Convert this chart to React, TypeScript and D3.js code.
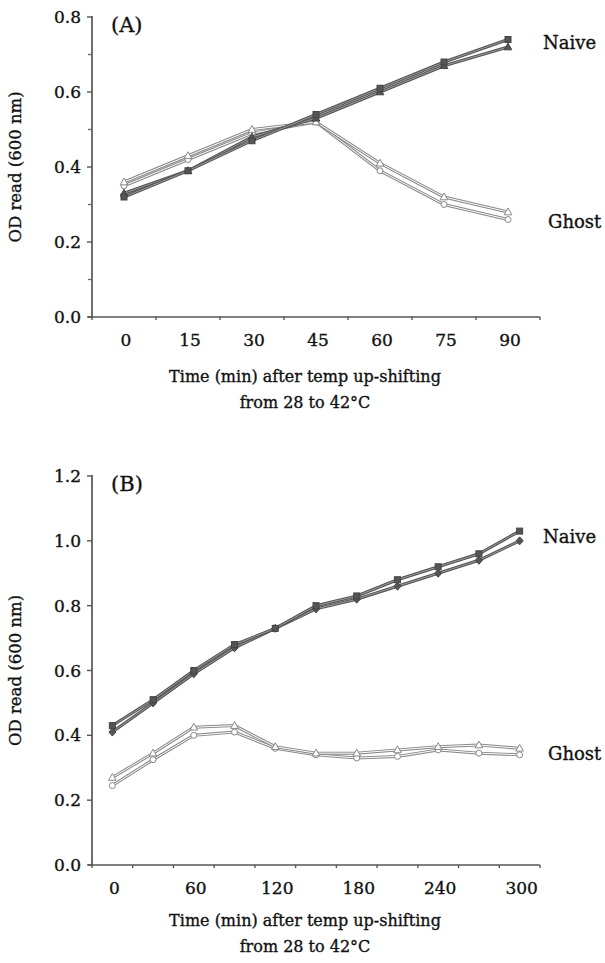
import React from 'react';
import * as d3 from 'd3';

// panel A: 0-90 min, every 15 min
const timesA = [0, 15, 30, 45, 60, 75, 90];
const naiveA1 = [0.32, 0.39, 0.47, 0.54, 0.61, 0.68, 0.74];
const naiveA2 = [0.33, 0.39, 0.48, 0.53, 0.60, 0.67, 0.72];
const ghostA1 = [0.36, 0.43, 0.50, 0.52, 0.41, 0.32, 0.28];
const ghostA2 = [0.35, 0.42, 0.49, 0.52, 0.39, 0.30, 0.26];
const yTicksA = [0, 0.2, 0.4, 0.6, 0.8];

// panel B: 0-300 min, every 30 min
const timesB = [0, 30, 60, 90, 120, 150, 180, 210, 240, 270, 300];
const naiveB1 = [0.43, 0.51, 0.60, 0.68, 0.73, 0.80, 0.83, 0.88, 0.92, 0.96, 1.03];
const naiveB2 = [0.41, 0.50, 0.59, 0.67, 0.73, 0.79, 0.82, 0.86, 0.90, 0.94, 1.00];
const ghostB1 = [0.27, 0.345, 0.425, 0.43, 0.365, 0.345, 0.345, 0.355, 0.365, 0.37, 0.36];
const ghostB2 = [0.245, 0.325, 0.40, 0.41, 0.36, 0.34, 0.33, 0.335, 0.355, 0.345, 0.34];
const xLabelsB = [0, 60, 120, 180, 240, 300];
const yTicksB = [0, 0.2, 0.4, 0.6, 0.8, 1.0, 1.2];

const FONT = '"DejaVu Serif", serif';
// scanned text is heavier than DejaVu regular, thicken it a little
const txt = { fontFamily: FONT, fill: '#111', stroke: '#111', strokeWidth: 0.35 };

type Series = { values: number[]; kind: 'naive' | 'ghost'; marker: 'square' | 'triangle' | 'circle' | 'diamond' };

const Marker = ({ x, y, s }: { x: number; y: number; s: Series }) => {
  const fill = s.kind === 'naive' ? '#555' : '#fff';
  const stroke = s.kind === 'naive' ? '#444' : '#888';
  if (s.marker === 'square') return <rect x={x - 3} y={y - 3} width={6} height={6} fill={fill} stroke={stroke} strokeWidth={1} />;
  if (s.marker === 'circle') return <circle cx={x} cy={y} r={3} fill={fill} stroke={stroke} strokeWidth={1} />;
  if (s.marker === 'diamond') return <path d={`M${x},${y - 4}L${x + 3.5},${y}L${x},${y + 4}L${x - 3.5},${y}Z`} fill={fill} stroke={stroke} strokeWidth={1} />;
  return <path d={`M${x},${y - 4}L${x + 3.8},${y + 2.8}L${x - 3.8},${y + 2.8}Z`} fill={fill} stroke={stroke} strokeWidth={1} />;
};

type PanelProps = {
  top: number;
  bottom: number;
  times: number[];
  step: number;
  xLabels: number[];
  yMax: number;
  yTicks: number[];
  yMinor: number[];
  series: Series[];
  tag: string;
  naiveY: number;
  ghostY: number;
  titleY: number;
};

const Panel = ({ top, bottom, times, step, xLabels, yMax, yTicks, yMinor, series, tag, naiveY, ghostY, titleY }: PanelProps) => {
  const left = 92;
  const right = 540;
  const x = d3.scaleLinear().domain([times[0] - step / 2, times[times.length - 1] + step / 2]).range([left, right]);
  const y = d3.scaleLinear().domain([0, yMax]).range([bottom, top]);
  const line = d3.line<number>().x((_, i) => x(times[i])).y(d => y(d));
  const xTickVals = d3.range(times[0] - step / 2, times[times.length - 1] + step, step);

  return (
    <g>
      {/* axes */}
      <line x1={left} x2={left} y1={top - 1} y2={bottom} stroke="#555" strokeWidth={1.7} />
      <line x1={left - 4} x2={right} y1={bottom} y2={bottom} stroke="#555" strokeWidth={1.7} />
      {yTicks.map(t => (
        <g key={t}>
          <line x1={left - 5} x2={left} y1={y(t)} y2={y(t)} stroke="#555" strokeWidth={1.4} />
          <text x={left - 11} y={y(t)} dy="0.36em" textAnchor="end" fontSize={17} {...txt}>{t.toFixed(1)}</text>
        </g>
      ))}
      {yMinor.map(t => (
        <line key={t} x1={left - 4} x2={left} y1={y(t)} y2={y(t)} stroke="#666" strokeWidth={1.3} />
      ))}
      {xTickVals.map(t => (
        <line key={t} x1={x(t)} x2={x(t)} y1={bottom} y2={bottom + 3} stroke="#555" strokeWidth={1.4} />
      ))}
      {xLabels.map(t => (
        <text key={t} x={x(t) + 2} y={bottom + 23} dy="0.36em" textAnchor="middle" fontSize={17} {...txt}>{t}</text>
      ))}
      <text transform={`translate(15,${(top + bottom) / 2}) rotate(-90)`} textAnchor="middle" dy="0.36em" fontSize={16.5} {...txt}>OD read (600 nm)</text>
      <text x={305} y={titleY} textAnchor="middle" fontSize={16} {...txt}>Time (min) after temp up-shifting</text>
      <text x={305} y={titleY + 26} textAnchor="middle" fontSize={16} {...txt}>from 28 to 42°C</text>
      <text x={111} y={top + 7} dy="0.36em" fontSize={21} {...txt}>{tag}</text>
      <text x={543} y={naiveY} dy="0.36em" fontSize={18} {...txt}>Naive</text>
      <text x={548} y={ghostY} dy="0.36em" fontSize={18} {...txt}>Ghost</text>
      {/* series: drawn as hollow tubes like the scanned figure */}
      {series.map((s, k) => (
        <g key={k}>
          <path d={line(s.values) ?? ''} fill="none" stroke={s.kind === 'naive' ? '#555' : '#8a8a8a'} strokeWidth={3} />
          <path d={line(s.values) ?? ''} fill="none" stroke={s.kind === 'naive' ? '#9a9a9a' : '#fff'} strokeWidth={1} />
        </g>
      ))}
      {series.map((s, k) => (
        <g key={`m${k}`}>
          {s.values.map((v, i) => <Marker key={i} x={x(times[i])} y={y(v)} s={s} />)}
        </g>
      ))}
    </g>
  );
};

export default function App() {
  return (
    <svg width={605} height={963} style={{ position: 'absolute', left: 0, top: 0, background: '#fff' }}>
      <rect width={605} height={963} fill="#fff" />
      <Panel
        top={17}
        bottom={317}
        times={timesA}
        step={15}
        xLabels={timesA}
        yMax={0.8}
        yTicks={yTicksA}
        yMinor={[0.1, 0.3, 0.5, 0.7]}
        series={[
          { values: ghostA2, kind: 'ghost', marker: 'circle' },
          { values: ghostA1, kind: 'ghost', marker: 'triangle' },
          { values: naiveA2, kind: 'naive', marker: 'triangle' },
          { values: naiveA1, kind: 'naive', marker: 'square' },
        ]}
        tag="(A)"
        naiveY={43}
        ghostY={222}
        titleY={382}
      />
      <Panel
        top={476}
        bottom={865}
        times={timesB}
        step={30}
        xLabels={xLabelsB}
        yMax={1.2}
        yTicks={yTicksB}
        yMinor={[]}
        series={[
          { values: ghostB2, kind: 'ghost', marker: 'circle' },
          { values: ghostB1, kind: 'ghost', marker: 'triangle' },
          { values: naiveB2, kind: 'naive', marker: 'diamond' },
          { values: naiveB1, kind: 'naive', marker: 'square' },
        ]}
        tag="(B)"
        naiveY={537}
        ghostY={754}
        titleY={926}
      />
    </svg>
  );
}
